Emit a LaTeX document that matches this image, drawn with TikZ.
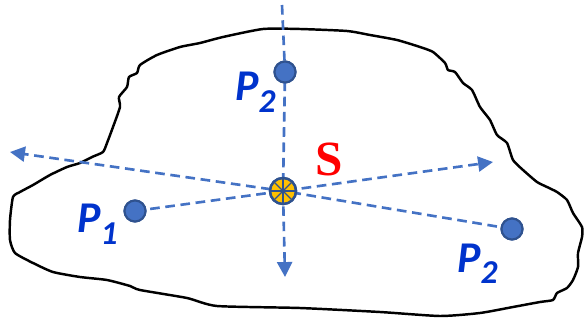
\documentclass[tikz,border=0pt]{standalone}
\usepackage{fontspec}
\setmainfont{Carlito}
\newfontfamily\serifbold{Liberation Serif}
\usepackage{xcolor}
\usepackage{tikz}
\usetikzlibrary{arrows.meta, positioning}

\definecolor{lineblue}{HTML}{4472C4}
\definecolor{dotedge}{HTML}{2F528F}
\definecolor{labelblue}{HTML}{0033CC}
\definecolor{sunyellow}{HTML}{FFC000}

\newcommand{\plabel}[1]{\textbf{\textit{P\raisebox{-6.3pt}{\fontsize{19}{19}\selectfont #1}}}}

\begin{document}
\begin{tikzpicture}[x=0.02cm, y=-0.02cm]
    \tikzstyle{outline} = [draw=black, line width=1.4pt, line join=round]
    \tikzstyle{dline} = [dash pattern=on 5.5pt off 3.2pt, line width=1.5pt, color=lineblue]
    \tikzstyle{arr} = [-{Triangle[length=8.5pt, width=8.5pt]}]
    \tikzstyle{pdot} = [circle, minimum size=0.42cm, inner sep=0pt,
                        fill=lineblue, draw=dotedge, line width=1.2pt]
    \tikzstyle{source} = [circle, minimum size=0.52cm, inner sep=0pt,
                          fill=sunyellow, draw=dotedge, line width=1.4pt]
    \tikzstyle{plab} = [anchor=base west, inner sep=0pt, text=labelblue,
                        font=\fontsize{25}{28}\selectfont]

    \useasboundingbox (0,0) rectangle (587,320);

    % region boundary
    \draw[outline] plot[smooth cycle, tension=0.35] coordinates {
        (263,29) (300,29) (347,31) (370,35) (397,40) (420,47) (433,52)
        (445,63) (448,70) (455,72) (463,83) (472,90) (480,107) (490,120)
        (497,135) (507,143) (513,160) (523,170) (537,182) (547,187)
        (557,192) (567,200) (573,213) (582,227) (582,237) (578,253)
        (578,267) (573,280) (567,288) (557,293) (553,300) (540,302)
        (513,307) (480,313) (440,316) (380,312) (300,308) (217,306)
        (187,298) (140,290) (130,286) (107,280) (80,277) (53,272)
        (33,263) (15,253) (10,240) (10,220) (13,197) (20,192) (33,185)
        (50,175) (67,167) (80,163) (92,157) (103,152) (107,143) (113,127)
        (120,107) (119,97) (127,87) (129,77) (137,73) (140,65) (157,55)
        (180,47) (200,43) (223,37)};

    % points
    \node (S)   [source] at (283,191) {};
    \node (p1)  [pdot] at (135,211) {};
    \node (p2a) [pdot] at (285,72) {};
    \node (p2b) [pdot] at (512,229) {};

    \coordinate (top)    at (282,5);
    \coordinate (bottom) at (285,277);
    \coordinate (west)   at (10,152);
    \coordinate (east)   at (493,162);

    % dashed rays
    \draw[dline] (top) -- (p2a.center) -- (S.center);
    \draw[dline, arr] (S.center) -- (bottom);
    \draw[dline, arr] (p2b.center) -- (S.center) -- (west);
    \draw[dline, arr] (p1.center) -- (S.center) -- (east);

    % redraw points on top of the rays
    \node [pdot] at (p1) {};
    \node [pdot] at (p2a) {};
    \node [pdot] at (p2b) {};
    \node [source] at (S) {};
    \foreach \a in {0,45,...,315}
        \draw[dotedge, line width=0.7pt] (S.center) -- ++(\a:0.24cm);

    % labels
    \node (lp1)  [plab] at (77,233)  {\plabel{1}};
    \node (lp2a) [plab] at (235,101) {\plabel{2}};
    \node (lp2b) [plab] at (457,272) {\plabel{2}};
    \node (ls)   [inner sep=0pt, text=red, font=\serifbold\bfseries\fontsize{28}{30}\selectfont]
        at (329,159) {S};
\end{tikzpicture}
\end{document}
